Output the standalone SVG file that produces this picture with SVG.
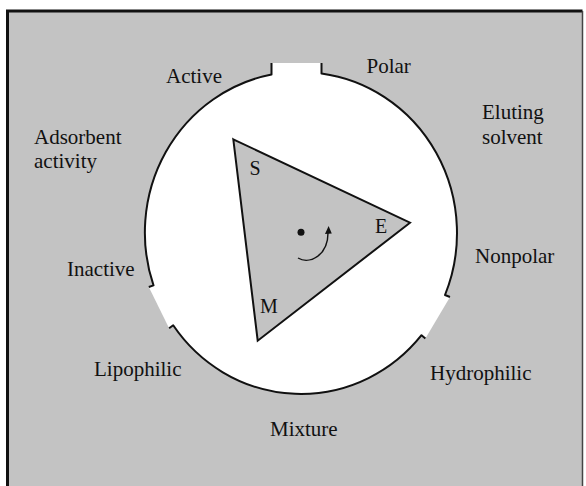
<svg xmlns="http://www.w3.org/2000/svg" width="586" height="486" viewBox="0 0 586 486">
<style>
text{font-family:"Liberation Serif","Times New Roman",serif;fill:#111}
.lbl{font-size:21px}
.vtx{font-size:20px}
.ol{fill:none;stroke:#111;stroke-width:2;stroke-linejoin:round}
</style>
<rect x="0" y="0" width="586" height="486" fill="#ffffff"/>
<g id="frame">
<rect x="7.5" y="11" width="575" height="480" fill="#c3c3c3"/>
<path d="M7.5 490 V11 H582.5" fill="none" stroke="#111" stroke-width="3"/>
<path d="M582.5 11 V486" fill="none" stroke="#444" stroke-width="1.5"/>
</g>
<g id="dial">
<ellipse cx="301" cy="233" rx="156" ry="161" fill="#ffffff"/>
<rect x="271.5" y="63" width="50" height="14" fill="#ffffff"/>
<polygon points="153.5,285.4 148.8,287 169.1,328.2 173.2,325.3 165,300" fill="#ffffff"/>
<polygon points="445,295 450,297 425.4,338.4 421.5,335.2 435,310" fill="#ffffff"/>
<path class="ol" d="M321.5 63 L321.5 73.5 A156 161 0 0 1 445 295 L450 297"/>
<path class="ol" d="M425.4 338.4 L421.5 335.2 A156 161 0 0 1 173.2 325.3 L169.1 328.2"/>
<path class="ol" d="M148.8 287 L153.5 285.4 A156 161 0 0 1 271.5 74.5 L271.5 63"/>
</g>
<g id="triangle">
<polygon points="233.3,139.3 410,222.7 257.7,340.7" fill="#c3c3c3" stroke="#111" stroke-width="2" stroke-linejoin="miter"/>
<text class="vtx" x="249.5" y="175">S</text>
<text class="vtx" x="375" y="233.3">E</text>
<text class="vtx" x="260" y="312.7">M</text>
</g>
<g id="rotation">
<circle cx="301" cy="232.3" r="3.5" fill="#111"/>
<path d="M298 258 C310 265 328 255 328 233" fill="none" stroke="#111" stroke-width="1.4"/>
<polygon points="328.6,226 325,234 331.8,233.5" fill="#111"/>
</g>
<g id="labels">
<text class="lbl" x="166" y="83">Active</text>
<text class="lbl" x="366.5" y="73.3">Polar</text>
<text class="lbl" x="482" y="119">Eluting</text>
<text class="lbl" x="482" y="144">solvent</text>
<text class="lbl" x="34" y="144">Adsorbent</text>
<text class="lbl" x="34" y="168">activity</text>
<text class="lbl" x="67" y="276">Inactive</text>
<text class="lbl" x="475" y="263">Nonpolar</text>
<text class="lbl" x="94" y="375.5">Lipophilic</text>
<text class="lbl" x="430" y="380">Hydrophilic</text>
<text class="lbl" x="270" y="436">Mixture</text>
</g>
</svg>
